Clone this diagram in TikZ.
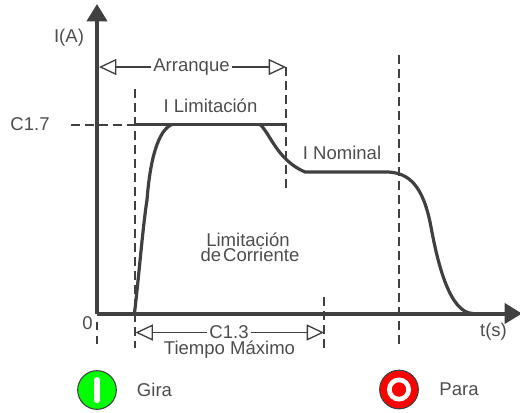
\documentclass[tikz,border=0pt]{standalone}
\usepackage{fontspec}
\setmainfont{Liberation Sans}
\usetikzlibrary{arrows.meta}
\definecolor{ink}{HTML}{404040}
\definecolor{txt}{HTML}{4D4D4D}
\tikzset{
  axis/.style={ink,line width=3pt,-{Triangle[length=13pt,width=15pt]}},
  curve/.style={ink,line width=2.4pt,line cap=round},
  guide/.style={ink,line width=1.5pt,dash pattern=on 6.5pt off 4pt},
  opentip/.style={ink,line width=1pt,{Triangle[open,length=13pt,width=12pt]}-},
  opentipr/.style={ink,line width=1pt,-{Triangle[open,length=13pt,width=12pt]}},
  lab/.style={text=txt,font=\fontsize{13.9pt}{14pt}\selectfont,inner sep=1.5pt},
}
\begin{document}
\begin{tikzpicture}[x=0.75pt,y=-0.75pt]
\useasboundingbox (0,0) rectangle (520,412);
% coordinates
\coordinate (o) at (97,313.5);
\coordinate (ytop) at (97,4);
\coordinate (xend) at (522,313.5);
\coordinate (g1a) at (134.5,89); \coordinate (g1b) at (134.5,348);
\coordinate (g2a) at (286,67);   \coordinate (g2b) at (286,190);
\coordinate (g3a) at (399,55);   \coordinate (g3b) at (399,344);
\coordinate (g4a) at (324,297);  \coordinate (g4b) at (324,349);
\coordinate (g5b) at (97,349);
\coordinate (h1) at (71,124.5);  \coordinate (h2) at (134.5,124.5);
\coordinate (h3) at (286,124.5);
\coordinate (a1) at (99,67);     \coordinate (a2) at (286,67);
\coordinate (b1) at (135.5,332.5); \coordinate (b2) at (324,332.5);
% guides
\draw[guide] (g1a) -- (g1b);
\draw[guide] (g2a) -- (g2b);
\draw[guide] (g3a) -- (g3b);
\draw[guide] (g4a) -- (g4b);
\draw[guide] (o) ++(0,8) -- (g5b);
\draw[guide] (h1) -- (h2);
% axes
\draw[axis] (o) -- (ytop);
\draw[axis] (o) -- (xend);
% limit line and curve
\draw[curve,line cap=butt] (h2) -- (h3);
\draw[curve] (134.5,313) .. controls (139,275) and (143,225) .. (147,200)
  .. controls (150,160) and (158,130) .. (172,124.5);
\draw[curve] (260,124.5) .. controls (270,133) and (277,160) .. (305,172)
  -- (388,172) .. controls (408,173) and (423,184) .. (431,227)
  .. controls (438,265) and (450,313) .. (473,313.5);
% labels
\node[lab] (arr) at (191.5,67) {Arranque};
\node[lab] (cthree) at (229,332.5) {C1.3};
\node[lab] at (69,38) {I(A)};
\node[lab] at (30,124) {C1.7};
\node[lab] at (210.5,106) {I Limitación};
\node[lab] at (342,153) {I Nominal};
\node[lab] at (248,240) {Limitación};
\node[lab] at (250,255) {de\hspace{0.1em}Corriente};
\node[lab] at (87.5,323.5) {0};
\node[lab] at (493.5,332) {t(s)};
\node[lab] at (229.5,350) {Tiempo Máximo};
\node[lab] at (154.5,390) {Gira};
\node[lab] at (459,389.5) {Para};
% spans
\draw[opentip] (a1) -- (arr);
\draw[opentipr] (arr) -- (a2);
\draw[opentip] (b1) -- (cthree);
\draw[opentipr] (cthree) -- (b2);
% indicators
\node[circle,draw=ink,fill=green,line width=0.8pt,minimum size=29pt,inner sep=0pt] (gira) at (97,390) {};
\draw[white,line width=4.6pt,line cap=round] (97,380) -- (97,400);
\node[circle,draw=ink,fill=red,line width=0.8pt,minimum size=29pt,inner sep=0pt] (para) at (399,389.5) {};
\node[circle,draw=white,line width=3.5pt,minimum size=14.5pt,inner sep=0pt] (parain) at (399,389.5) {};
\end{tikzpicture}
\end{document}
